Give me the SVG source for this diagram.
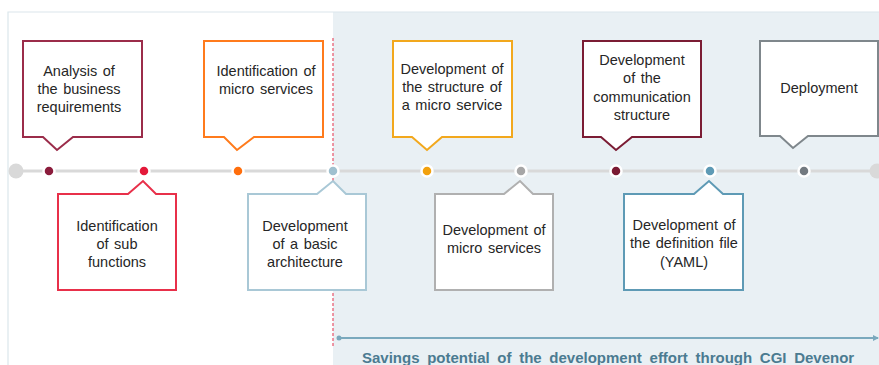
<svg xmlns="http://www.w3.org/2000/svg" width="879" height="365" viewBox="0 0 879 365">
<style>
.t{font-family:"Liberation Sans",Arial,sans-serif;font-size:14.5px;fill:#262626;text-anchor:middle;word-spacing:1.5px}
.c{fill:#fff;stroke-width:2;stroke-linejoin:miter}
.dot{stroke:#fff;stroke-width:2.5}
.s{font-family:"Liberation Sans",Arial,sans-serif;font-size:15px;font-weight:bold;fill:#4b7b91;word-spacing:3.5px}
</style>
<defs>
<marker id="ah" markerWidth="6" markerHeight="6" refX="5" refY="3" orient="auto" markerUnits="userSpaceOnUse">
<path d="M0,0 L6,3 L0,6 Z" fill="#7aa9bd"/>
</marker>
</defs>
<rect x="0" y="0" width="879" height="365" fill="#fff"/>
<rect x="333" y="12" width="546" height="353" fill="#e9f0f4"/>
<path d="M8,365 V12 H879" fill="none" stroke="#dbe6eb" stroke-width="1.2"/>
<g id="connectors">
<line x1="333" y1="38" x2="333" y2="346" stroke="#e8546a" stroke-width="1.2" stroke-dasharray="3,2"/>
<line x1="16" y1="171" x2="876" y2="171" stroke="#d9d9d9" stroke-width="3"/>
<circle cx="16" cy="171" r="7.5" fill="#d9d9d9"/>
<circle cx="877" cy="171" r="7.5" fill="#d9d9d9"/>
<circle cx="339" cy="338" r="2.5" fill="#7aa9bd"/>
<line x1="339" y1="338" x2="878" y2="338" stroke="#7aa9bd" stroke-width="2" marker-end="url(#ah)"/>
</g>
<g id="dots">
<circle class="dot" cx="49" cy="171" r="5.5" fill="#8b1c3c"/>
<circle class="dot" cx="144" cy="171" r="5.5" fill="#e3193a"/>
<circle class="dot" cx="238" cy="171" r="5.5" fill="#ff6e0c"/>
<circle class="dot" cx="333" cy="171" r="5.5" fill="#9fc0cf"/>
<circle class="dot" cx="427" cy="171" r="5.5" fill="#f2a10d"/>
<circle class="dot" cx="521" cy="171" r="5.5" fill="#a6a6a6"/>
<circle class="dot" cx="616" cy="171" r="5.5" fill="#7a1a32"/>
<circle class="dot" cx="710" cy="171" r="5.5" fill="#5e9ab5"/>
<circle class="dot" cx="804" cy="171" r="5.5" fill="#737a80"/>
</g>
<g id="n1">
<path class="c" stroke="#9b2c4a" d="M23,41 H142 V137 H73 L57,150 L43,137 H23 Z"/>
<text class="t" x="79" y="76">Analysis of</text>
<text class="t" x="79" y="94">the business</text>
<text class="t" x="79" y="112">requirements</text>
</g>
<g id="n2">
<path class="c" stroke="#e8304a" d="M58,194 H128 L143,181 L156,194 H176 V290 H58 Z"/>
<text class="t" x="117" y="231">Identification</text>
<text class="t" x="117" y="249">of sub</text>
<text class="t" x="117" y="267">functions</text>
</g>
<g id="n3">
<path class="c" stroke="#ff7b1c" d="M204,41 H323 V137 H254 L237,150 L224,137 H204 Z"/>
<text class="t" x="266" y="76">Identification of</text>
<text class="t" x="266" y="94">micro services</text>
</g>
<g id="n4">
<path class="c" stroke="#a9c8d6" d="M248,194 H317 L333,181 L346,194 H366 V290 H248 Z"/>
<text class="t" x="305" y="231">Development</text>
<text class="t" x="305" y="249">of a basic</text>
<text class="t" x="305" y="267">architecture</text>
</g>
<g id="n5">
<path class="c" stroke="#f2a81d" d="M393,41 H512 V137 H442 L427,150 L412,137 H393 Z"/>
<text class="t" x="452" y="74">Development of</text>
<text class="t" x="452" y="92">the structure of</text>
<text class="t" x="452" y="110">a micro service</text>
</g>
<g id="n6">
<path class="c" stroke="#b0b0b0" d="M435,194 H504 L520,181 L533,194 H553 V290 H435 Z"/>
<text class="t" x="494" y="235">Development of</text>
<text class="t" x="494" y="253">micro services</text>
</g>
<g id="n7">
<path class="c" stroke="#7b1c34" d="M583,41 H701 V137 H632 L616,150 L601,137 H583 Z"/>
<text class="t" x="642" y="65">Development</text>
<text class="t" x="642" y="83">of the</text>
<text class="t" x="642" y="102">communication</text>
<text class="t" x="642" y="120">structure</text>
</g>
<g id="n8">
<path class="c" stroke="#5e9ab5" d="M624,194 H694 L709,181 L723,194 H743 V290 H624 Z"/>
<text class="t" x="684" y="230">Development of</text>
<text class="t" x="684" y="248">the definition file</text>
<text class="t" x="684" y="267">(YAML)</text>
</g>
<g id="n9">
<path class="c" stroke="#7f878c" d="M760,41 H878 V136 H808 L793,148 L780,136 H760 Z"/>
<text class="t" x="819" y="93">Deployment</text>
</g>
<g id="label">
<text class="s" x="362" y="363">Savings potential of the development effort through CGI Devenor</text>
</g>
</svg>
